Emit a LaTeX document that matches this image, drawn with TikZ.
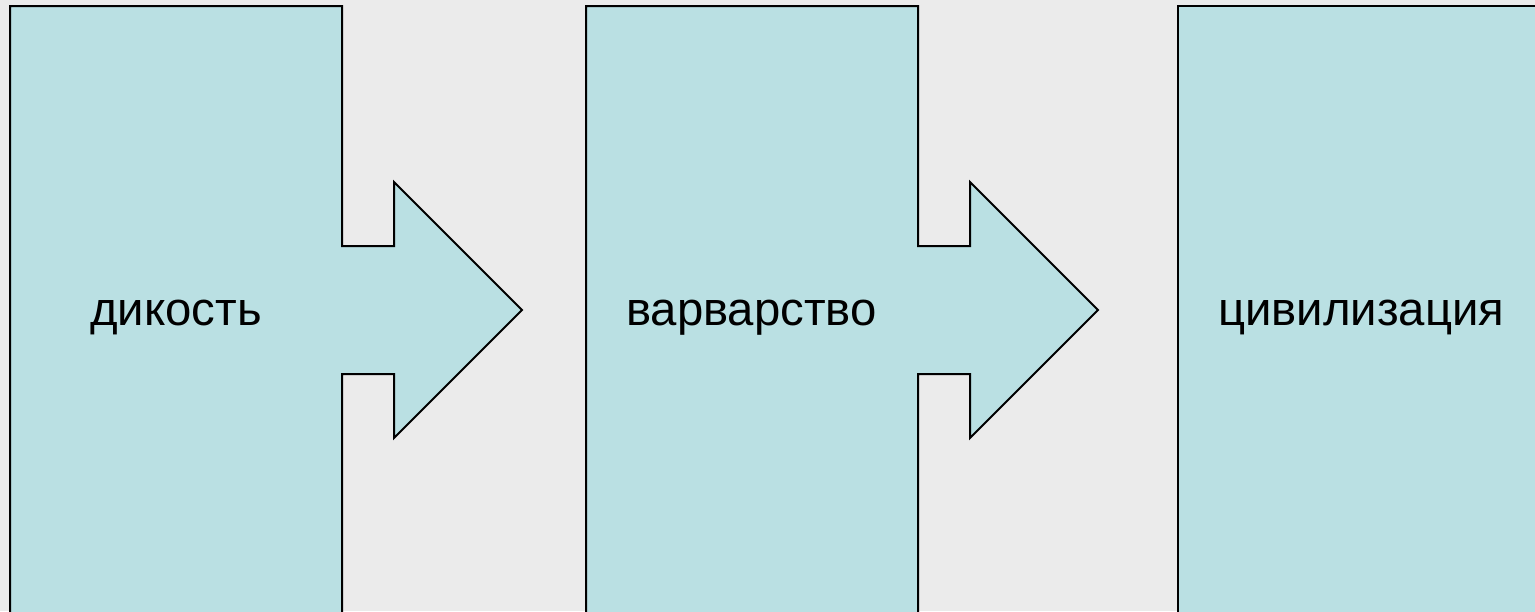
\documentclass[tikz,border=0pt]{standalone}
\usepackage{fontspec}
\setmainfont{Liberation Sans}
\usepackage{xcolor}
\definecolor{stagefill}{HTML}{BAE0E3}
\definecolor{marble}{HTML}{EBEBEB}
\begin{document}
\begin{tikzpicture}[x=1pt,y=-1pt]
		\useasboundingbox (0,0) rectangle (1535,611);
		\clip (0,0) rectangle (1535,611);
		\fill [marble] (0,0) rectangle (1535,611);
		%
		\begin{scope}[line width=2pt,line join=miter]
			\foreach \x in {0,576}
				\draw [fill=stagefill] (10+\x,6) -- (342+\x,6) -- (342+\x,246) -- (394+\x,246)
					-- (394+\x,182) -- (522+\x,310) -- (394+\x,438) -- (394+\x,374)
					-- (342+\x,374) -- (342+\x,640) -- (10+\x,640) -- cycle;
			\draw [fill=stagefill] (1178,6) -- (1560,6) -- (1560,640) -- (1178,640) -- cycle;
		\end{scope}
		%
		\begin{scope}[every node/.style={anchor=base west,inner sep=0pt,font=\fontsize{47.3}{56}\selectfont}]
			\node (wild) at (90,325) {дикость};
			\node (barb) at (626,325) {варварство};
			\node (civil) at (1218,325) {цивилизация};
		\end{scope}
	\end{tikzpicture}
\end{document}
